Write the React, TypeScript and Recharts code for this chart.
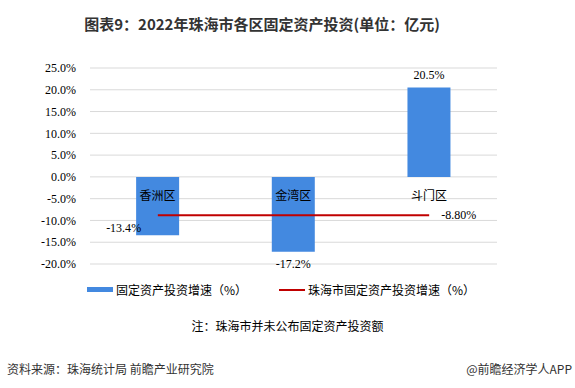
import { ComposedChart, Bar, Line, XAxis, YAxis, CartesianGrid, LabelList } from "recharts";

const categories = ["香洲区", "金湾区", "斗门区"];
const districtGrowth = [-13.4, -17.2, 20.5];
const cityGrowth = [-8.8, -8.8, -8.8];
const yTicks = [-20, -15, -10, -5, 0, 5, 10, 15, 20, 25];
const valuePlacement = ["left", "bottom", "top"];

const data = categories.map((name, i) => ({
  name,
  growth: districtGrowth[i],
  city: cityGrowth[i],
}));

const serif = "'Liberation Serif', 'Times New Roman', serif";
const cjk = "'Noto Sans CJK SC', 'Noto Sans', sans-serif";

function BarLabels(props: any) {
  const { x, y, width, height, value, index } = props;
  const top = Math.min(y, y + height);
  const bottom = Math.max(y, y + height);
  const zero = value >= 0 ? bottom : top;
  const cx = x + width / 2;
  const place = valuePlacement[index];
  let vx = cx;
  let vy = value >= 0 ? top - 13 : bottom + 12;
  let anchor: "middle" | "end" = "middle";
  if (place === "left") {
    vx = x + 5;
    vy = bottom - 7;
    anchor = "end";
  }
  return (
    <g>
      <text x={cx} y={zero + 18} textAnchor="middle" dominantBaseline="central" fontFamily={cjk} fontSize={12} fill="#000">
        {categories[index]}
      </text>
      <text x={vx} y={vy} textAnchor={anchor} dominantBaseline="central" fontFamily={serif} fontSize={12} fill="#000">
        {value.toFixed(1)}%
      </text>
    </g>
  );
}

function LineEndLabel(props: any) {
  const { x, y, value, index } = props;
  if (index !== categories.length - 1) return null;
  return (
    <text x={x + 12} y={y} dominantBaseline="central" fontFamily={serif} fontSize={12} fill="#000">
      {value.toFixed(2)}%
    </text>
  );
}

function LegendBox() {
  return (
    <div style={{ display: "flex", alignItems: "center", fontFamily: cjk, fontSize: 12, color: "#000" }}>
      <span style={{ display: "inline-block", width: 26, height: 5, background: "#4389e0", marginRight: 3 }} />
      <span>固定资产投资增速（%）</span>
      <span style={{ display: "inline-block", width: 26, height: 2, background: "#c00000", marginLeft: 32, marginRight: 3 }} />
      <span>珠海市固定资产投资增速（%）</span>
    </div>
  );
}

export default function App() {
  return (
    <div style={{ position: "absolute", left: 0, top: 0, width: 575, height: 388, background: "#fff", overflow: "hidden" }}>
      <div
        style={{
          position: "absolute",
          top: 13,
          left: 0,
          width: 524,
          textAlign: "center",
          fontFamily: cjk,
          fontWeight: "bold",
          fontSize: 15,
          color: "#333",
        }}
      >
        图表9：2022年珠海市各区固定资产投资(单位：亿元)
      </div>
      <ComposedChart
        width={575}
        height={388}
        data={data}
        margin={{ top: 68, right: 78, bottom: 124, left: 10 }}
        barCategoryGap="34%"
      >
        <CartesianGrid vertical={false} stroke="#d9d9d9" />
        <XAxis dataKey="name" hide />
        <YAxis
          width={80}
          domain={[-20, 25]}
          ticks={yTicks}
          interval={0}
          axisLine={false}
          tickLine={false}
          tickFormatter={(v: number) => `${v.toFixed(1)}%`}
          tick={{ fontFamily: serif, fontSize: 12, fill: "#000" }}
          tickMargin={8}
        />
        <Bar dataKey="growth" fill="#4389e0" isAnimationActive={false}>
          <LabelList dataKey="growth" content={<BarLabels />} />
        </Bar>
        <Line
          dataKey="city"
          stroke="#c00000"
          strokeWidth={2}
          dot={false}
          activeDot={false}
          isAnimationActive={false}
        >
          <LabelList dataKey="city" content={<LineEndLabel />} />
        </Line>
      </ComposedChart>
      <div style={{ position: "absolute", top: 281, left: 87 }}>
        <LegendBox />
      </div>
      <div style={{ position: "absolute", top: 317, left: 0, width: 575, textAlign: "center", fontFamily: cjk, fontSize: 12, color: "#000" }}>
        注：珠海市并未公布固定资产投资额
      </div>
      <div style={{ position: "absolute", top: 360, left: 7, fontFamily: cjk, fontSize: 12, color: "#333" }}>
        资料来源：珠海统计局 前瞻产业研究院
      </div>
      <div style={{ position: "absolute", top: 360, right: 3, fontFamily: cjk, fontSize: 12, color: "#333" }}>
        @前瞻经济学人APP
      </div>
    </div>
  );
}
